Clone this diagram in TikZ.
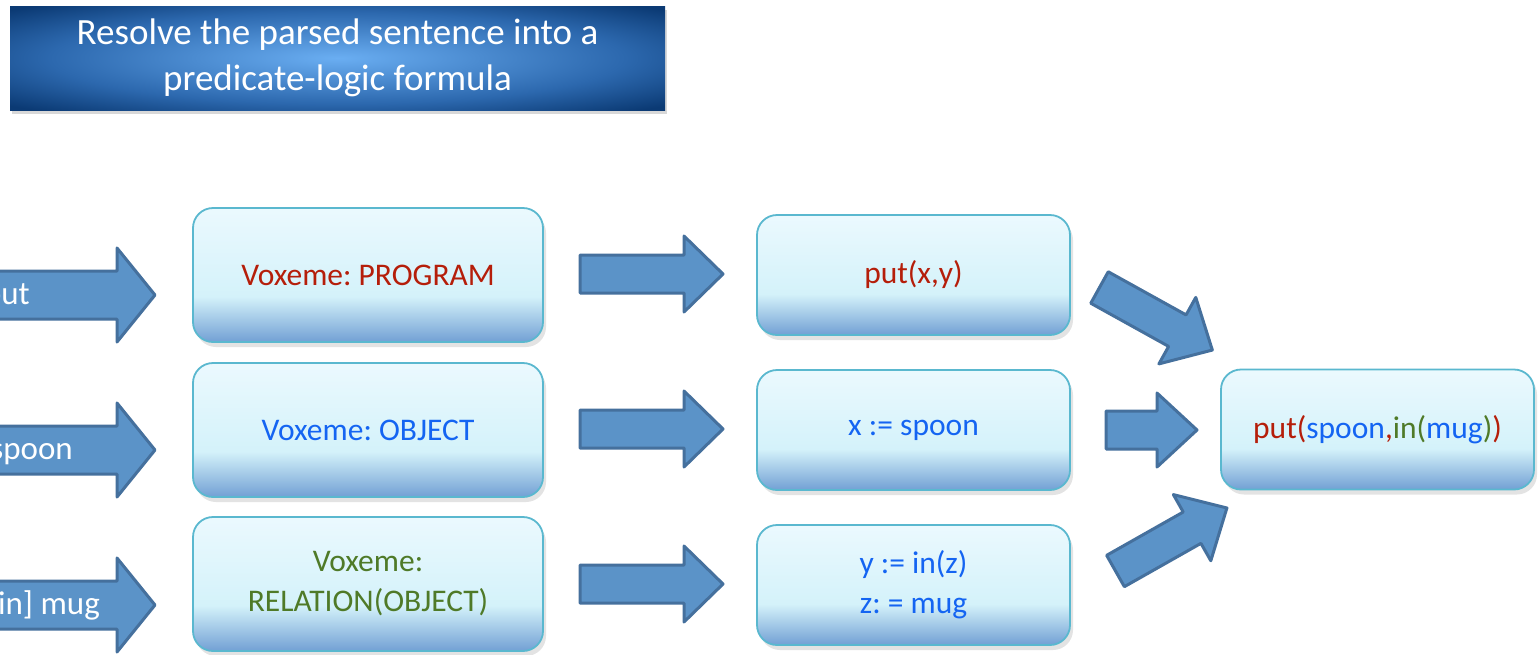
\documentclass[tikz,border=0pt]{standalone}
\usepackage{fontspec}
\setmainfont{Carlito}
\frenchspacing
\usetikzlibrary{shadows}
\definecolor{titlein}{HTML}{6AAEF2}
\definecolor{titlemid}{HTML}{2C68AE}
\definecolor{titleout}{HTML}{0B3A74}
\definecolor{btop}{HTML}{EBF9FE}
\definecolor{bmid}{HTML}{D4F2FA}
\definecolor{bbot}{HTML}{72A0D4}
\definecolor{bborder}{HTML}{5AB8CF}
\definecolor{afill}{HTML}{5B93C8}
\definecolor{aline}{HTML}{45709D}
\definecolor{tred}{HTML}{B51E0A}
\definecolor{tblue}{HTML}{1464F2}
\definecolor{tgreen}{HTML}{4F7A28}
\pgfdeclareverticalshading{boxshade}{100bp}{color(0bp)=(bbot); color(25bp)=(bbot); color(42bp)=(bmid); color(75bp)=(btop); color(100bp)=(btop)}
\pgfdeclareradialshading{titleshade}{\pgfpoint{0bp}{0bp}}{color(0bp)=(titlein); color(22bp)=(titlemid); color(34bp)=(titleout); color(50bp)=(titleout)}
\tikzset{
  x=1pt, y=-1pt,
  titlebox/.style={rectangle, inner sep=0pt, minimum width=655pt, minimum height=104pt,
    shading=titleshade, align=center, text=white,
    font=\fontsize{37pt}{46pt}\selectfont,
    drop shadow={opacity=0.3, shadow xshift=2pt, shadow yshift=-4pt}},
  vbox/.style={rectangle, draw=bborder, line width=1.8pt, rounded corners=20pt,
    shading=boxshade, inner sep=0pt, align=center,
    font=\fontsize{31.5pt}{40pt}\selectfont,
    drop shadow={opacity=0.22, shadow xshift=3pt, shadow yshift=-5pt}},
  wide/.style={minimum width=350pt, minimum height=134pt},
  narrow/.style={minimum width=313pt, minimum height=120pt},
  barrowstyle/.style={fill=afill, draw=aline, line width=3pt, line join=round},
  arrowtext/.style={text=white, inner sep=0pt, font=\fontsize{33pt}{38pt}\selectfont},
  pics/barrow/.style n args={4}{code={
    \path[barrowstyle] (0,-#2) -- (#1-#4,-#2) -- (#1-#4,-#3) -- (#1,0)
      -- (#1-#4,#3) -- (#1-#4,#2) -- (0,#2) -- cycle;
  }}
}
\begin{document}
\begin{tikzpicture}
\path[use as bounding box, fill=white] (0,0) rectangle (1539,654);

% title
\node[titlebox] (title) at (337.5,58) {Resolve the parsed sentence into a\\predicate-logic formula};

% left input arrows (cut by the picture edge, as in the reference)
\begin{scope}
\clip (0,0) rectangle (1539,654);
\pic (in1) at (-30,295) {barrow={185}{24}{47}{38}};
\pic (in2) at (-30,450) {barrow={185}{24}{47}{38}};
\pic (in3) at (-30,605) {barrow={185}{24}{47}{38}};
\node[arrowtext, anchor=base east] (t1) at (30,304) {put};
\node[arrowtext, anchor=base east] (t2) at (73,459) {spoon};
\node[arrowtext, anchor=base east] (t3) at (100,614) {[in] mug};
\end{scope}

% column 1
\node[vbox, wide] (v1) at (368,275) {\textcolor{tred}{Voxeme: PROGRAM}};
\node[vbox, wide] (v2) at (368,430) {\textcolor{tblue}{Voxeme: OBJECT}};
\node[vbox, wide] (v3) at (368,584) {\textcolor{tgreen}{Voxeme:}\\\textcolor{tgreen}{RELATION(OBJECT)}};

% middle arrows
\pic (m1) at (580,274) {barrow={143}{19}{38}{39}};
\pic (m2) at (580,429) {barrow={143}{19}{38}{39}};
\pic (m3) at (580,584) {barrow={143}{19}{38}{39}};

% column 2
\node[vbox, narrow] (p1) at (913.5,275) {\textcolor{tred}{put(x,y)}};
\node[vbox, narrow] (p2) at (913.5,430) {\textcolor{tblue}{x := spoon}};
\node[vbox, narrow] (p3) at (913.5,585) {\textcolor{tblue}{y := in(z)}\\\textcolor{tblue}{z: = mug}};

% right arrows
\pic[rotate=-29] (r1) at (1099.5,287.5) {barrow={129}{18}{38}{40}};
\pic (r2) at (1106,430) {barrow={91}{19}{37}{40}};
\pic[rotate=29.5] (r3) at (1115.5,571) {barrow={128}{18}{38}{40}};

% result
\node[vbox, narrow] (res) at (1377.5,429.5) {\textcolor{tred}{put(}\textcolor{tblue}{spoon}\textcolor{tred}{,}\textcolor{tgreen}{in(}\textcolor{tblue}{mug}\textcolor{tgreen}{)}\textcolor{tred}{)}};
\end{tikzpicture}
\end{document}
